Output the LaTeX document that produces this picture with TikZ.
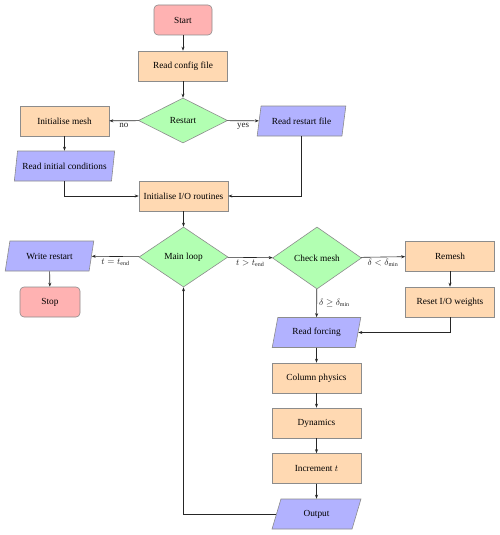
\documentclass[tikz,border=0pt]{standalone}
\usepackage{fontspec}
\setmainfont{Liberation Serif}
\usetikzlibrary{shapes.geometric,arrows.meta}
\tikzset{
  base/.style={draw=black!45, line width=0.6pt, font=\fontsize{9.3}{11}\selectfont, inner sep=1pt},
  startstop/.style={base, rectangle, rounded corners=4pt, fill=red!30, minimum width=58pt, minimum height=30pt},
  process/.style={base, rectangle, fill=orange!30, minimum width=89pt, minimum height=30pt},
  decision/.style={base, diamond, fill=green!30, minimum width=89pt, inner sep=0pt},
  io/.style={base, trapezium, trapezium left angle=71, trapezium right angle=109, trapezium stretches=true, fill=blue!30, minimum width=89pt, minimum height=30pt},
  arr/.style={-{Stealth[length=4pt,width=3pt]}, line width=0.6pt, black!85},
  lbl/.style={font=\fontsize{9}{11}\selectfont, inner sep=2pt}
}
\begin{document}
\begin{tikzpicture}[x=1pt,y=-1pt]
\useasboundingbox (0,0) rectangle (500,535);
\node[startstop] (start) at (183,20) {Start};
\node[process] (config) at (183,66) {Read config file};
\node[decision, minimum height=45pt] (restart) at (183,120.5) {Restart};
\node[process] (initmesh) at (64.5,121) {Initialise mesh};
\node[io] (readrestart) at (301.5,121) {Read restart file};
\node[io, minimum width=101pt] (readinit) at (64.5,166) {Read initial conditions};
\node[process] (initio) at (183.5,196) {Initialise I/O routines};
\node[decision, minimum height=60pt] (mainloop) at (183.5,257) {Main loop};
\node[decision, minimum height=62pt] (checkmesh) at (317,258) {Check mesh};
\node[io] (writerestart) at (49.5,256) {Write restart};
\node[startstop, minimum width=60pt] (stop) at (50,302) {Stop};
\node[process] (remesh) at (450,256) {Remesh};
\node[process] (resetio) at (450,302) {Reset I/O weights};
\node[io] (readforcing) at (316.5,332.5) {Read forcing};
\node[process] (colphys) at (316.5,378) {Column physics};
\node[process] (dynamics) at (316.5,423) {Dynamics};
\node[process] (increment) at (316.5,468.5) {Increment $t$};
\node[io] (output) at (316.5,514) {Output};

\draw[arr] (start) -- (config);
\draw[arr] (config) -- (restart);
\draw[arr] (restart) -- node[lbl, below] {no} (initmesh);
\draw[arr] (restart) -- node[lbl, below] {yes} (readrestart);
\draw[arr] (initmesh) -- (readinit);
\draw[arr] (readinit.south) |- (initio.west);
\draw[arr] (readrestart.south) |- (initio.east);
\draw[arr] (initio) -- (mainloop);
\draw[arr] (mainloop) -- node[lbl, below] {$t = t_{\mathrm{end}}$} (writerestart);
\draw[arr] (writerestart) -- (stop);
\draw[arr] (mainloop) -- node[lbl, below] {$t > t_{\mathrm{end}}$} (checkmesh);
\draw[arr] (checkmesh) -- node[lbl, below] {$\delta < \delta_{\mathrm{min}}$} (remesh);
\draw[arr] (remesh) -- (resetio);
\draw[arr] (resetio.south) |- (readforcing.east);
\draw[arr] (checkmesh) -- node[lbl, right] {$\delta \geq \delta_{\mathrm{min}}$} (readforcing);
\draw[arr] (readforcing) -- (colphys);
\draw[arr] (colphys) -- (dynamics);
\draw[arr] (dynamics) -- (increment);
\draw[arr] (increment) -- (output);
\draw[arr] (output.west) -| (mainloop.south);
\end{tikzpicture}
\end{document}
